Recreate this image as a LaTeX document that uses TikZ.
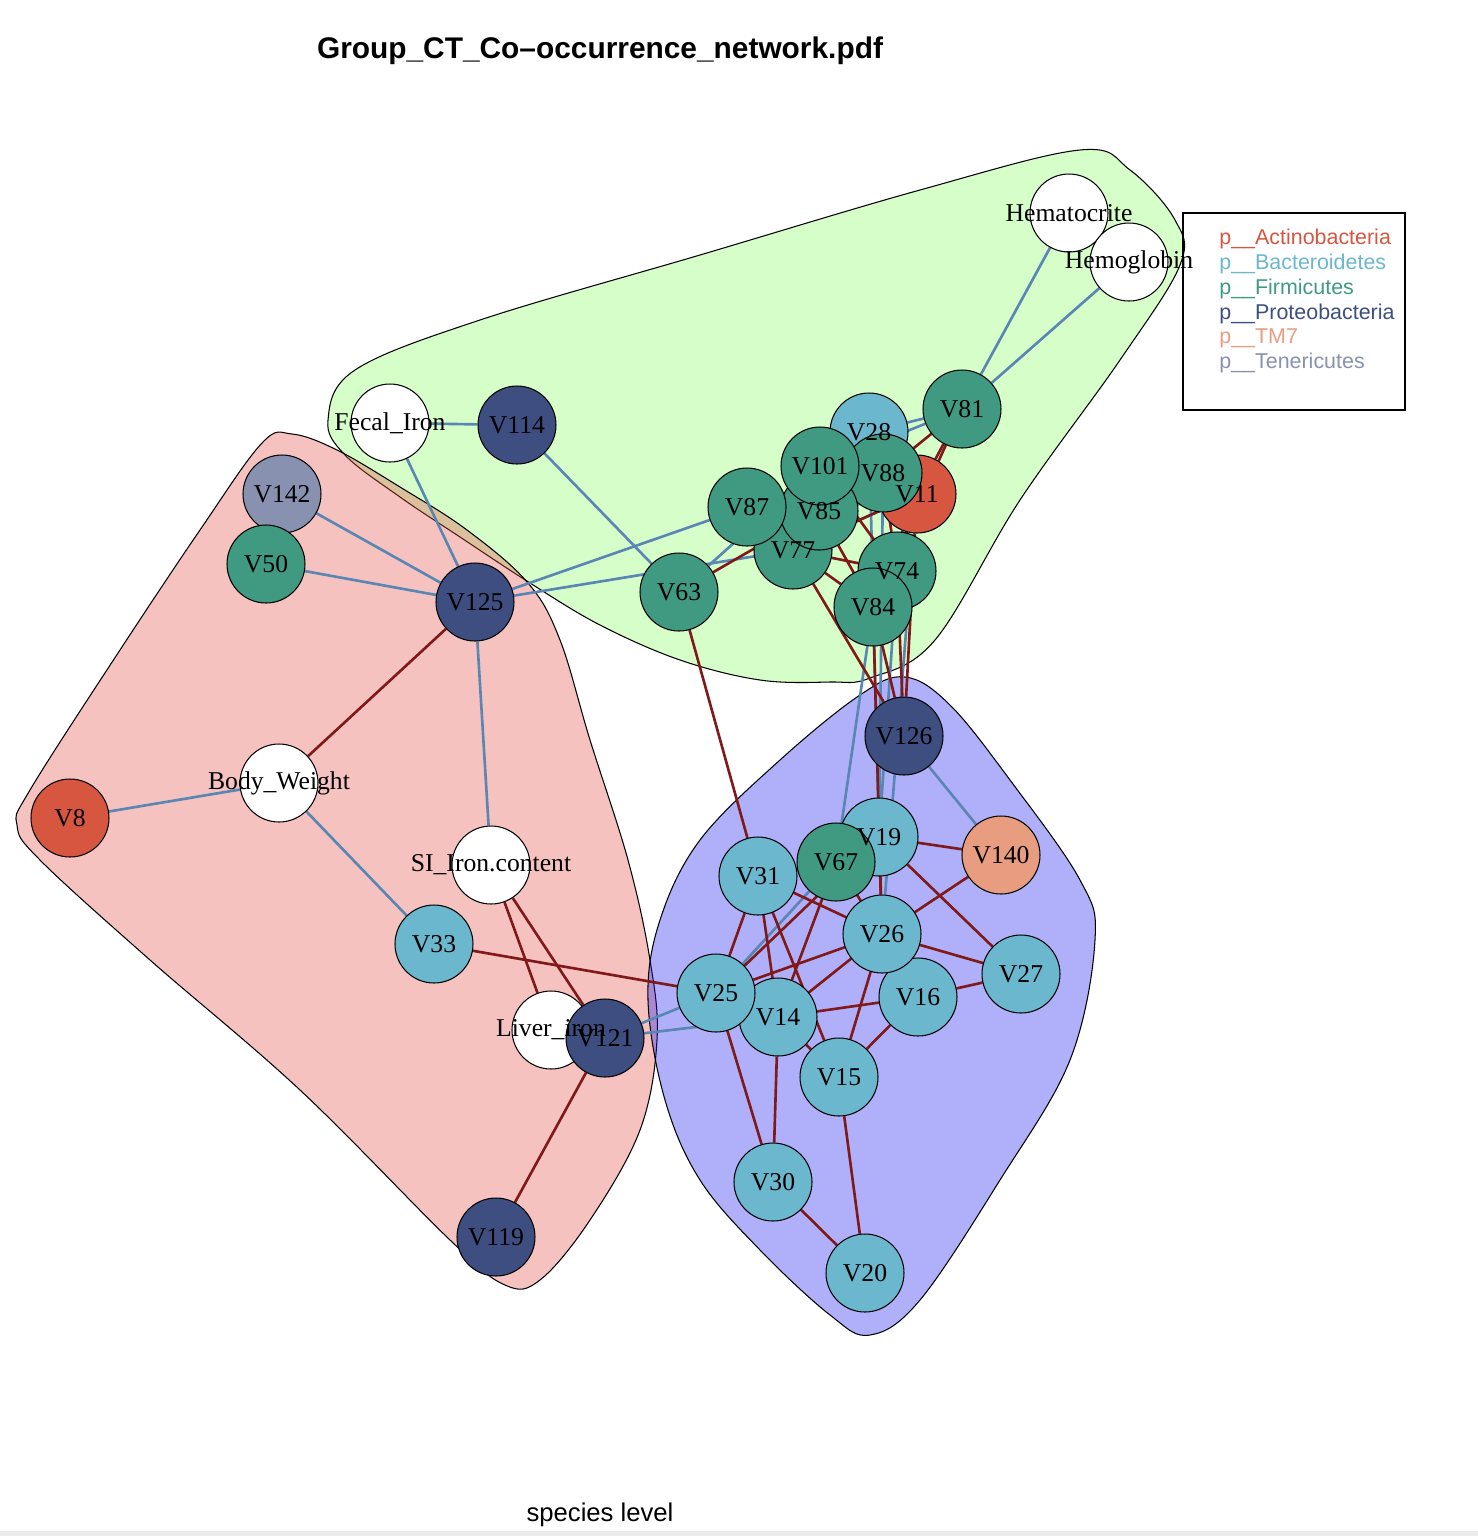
\documentclass[tikz,border=0pt]{standalone}
\usepackage{fontspec}
\setmainfont{Liberation Serif}
\setsansfont{Liberation Sans}

\definecolor{actino}{HTML}{D65640}
\definecolor{bactero}{HTML}{6BB8CE}
\definecolor{firmi}{HTML}{409A82}
\definecolor{proteo}{HTML}{3E4E80}
\definecolor{tmseven}{HTML}{E89D80}
\definecolor{teneri}{HTML}{8891B0}
\definecolor{posred}{HTML}{801A1A}
\definecolor{negblue}{HTML}{5A86B4}
\definecolor{hullgreen}{RGB}{138,252,98}
\definecolor{hullred}{RGB}{229,81,72}
\definecolor{hullblue}{RGB}{29,29,241}

\pgfdeclarelayer{hulls}
\pgfdeclarelayer{edges}
\pgfsetlayers{hulls,edges,main}

\begin{document}
\begin{tikzpicture}[x=0.02cm, y=-0.02cm,
  otu/.style={draw, circle, minimum size=1.56cm, inner sep=0pt,
              line width=0.6pt},
  env/.style={otu, fill=white},
  act/.style={otu, fill=actino},
  bac/.style={otu, fill=bactero},
  fir/.style={otu, fill=firmi},
  pro/.style={otu, fill=proteo},
  tms/.style={otu, fill=tmseven},
  ten/.style={otu, fill=teneri},
  vlab/.style={font=\fontsize{14.6}{14.6}\selectfont, inner sep=0pt},
  posedge/.style={draw=posred, line width=1.5pt},
  negedge/.style={draw=negblue, line width=1.5pt},
  hull/.style={draw=black, line width=0.6pt, fill opacity=0.35},
  leg/.style={font=\sffamily\fontsize{12.2}{12.2}\selectfont, anchor=west,
              inner sep=0pt}
]
  \useasboundingbox (0,0) rectangle (1478,1536);
  \fill[black!8] (0,1531) rectangle (1478,1536);

  % vertices, in drawing order
  \node[env] (Hct)   at (1069,213) {};
  \node[env] (Hgb)   at (1129,262) {};
  \node[env] (Fecal) at (390,423)  {};
  \node[pro] (V114)  at (517,425)  {};
  \node[ten] (V142)  at (282,494)  {};
  \node[fir] (V50)   at (266,564)  {};
  \node[pro] (V125)  at (475,602)  {};
  \node[env] (BW)    at (279,783)  {};
  \node[act] (V8)    at (70,818)   {};
  \node[env] (SI)    at (491,865)  {};
  \node[bac] (V33)   at (434,944)  {};
  \node[env] (Liver) at (551,1030) {};
  \node[pro] (V121)  at (605,1038) {};
  \node[pro] (V119)  at (496,1237) {};
  \node[bac] (V28)   at (869,432)  {};
  \node[act] (V11)   at (917,494)  {};
  \node[fir] (V88)   at (883,473)  {};
  \node[fir] (V77)   at (793,550)  {};
  \node[fir] (V85)   at (819,511)  {};
  \node[fir] (V101)  at (820,466)  {};
  \node[fir] (V87)   at (747,507)  {};
  \node[fir] (V81)   at (962,409)  {};
  \node[fir] (V74)   at (897,571)  {};
  \node[fir] (V84)   at (873,607)  {};
  \node[fir] (V63)   at (679,592)  {};
  \node[pro] (V126)  at (904,736)  {};
  \node[bac] (V19)   at (879,837)  {};
  \node[fir] (V67)   at (836,862)  {};
  \node[tms] (V140)  at (1001,855) {};
  \node[bac] (V31)   at (758,876)  {};
  \node[bac] (V16)   at (918,997)  {};
  \node[bac] (V26)   at (882,934)  {};
  \node[bac] (V27)   at (1021,974) {};
  \node[bac] (V14)   at (778,1017) {};
  \node[bac] (V25)   at (716,993)  {};
  \node[bac] (V15)   at (839,1077) {};
  \node[bac] (V30)   at (773,1182) {};
  \node[bac] (V20)   at (865,1273) {};

  % group hulls
  \begin{pgfonlayer}{hulls}
    \draw[hull, fill=hullgreen] plot[smooth cycle, tension=0.6] coordinates {
      (328,420) (355,370) (480,320) (700,255) (920,190) (1080,150)
      (1130,170) (1175,220) (1180,265) (1120,360) (1020,500) (935,640)
      (870,678) (830,682) (760,680) (680,660) (600,625) (530,583)
      (460,537) (400,497) (345,455)};
    \draw[hull, fill=hullred] plot[smooth cycle, tension=0.6] coordinates {
      (262,443) (292,434) (337,450) (400,487) (467,530) (528,583)
      (560,640) (590,740) (628,860) (650,960) (657,1040) (640,1130)
      (590,1220) (540,1280) (505,1285) (450,1240) (300,1090) (150,960)
      (40,860) (17,825) (30,790) (120,650) (200,530)};
    \draw[hull, fill=hullblue] plot[smooth cycle, tension=0.6] coordinates {
      (905,677) (950,705) (1010,780) (1080,880) (1095,940) (1070,1060)
      (1000,1180) (920,1300) (870,1335) (830,1315) (760,1250) (700,1180)
      (665,1100) (648,1000) (660,920) (700,840) (780,760) (860,695)};
  \end{pgfonlayer}

  % edges
  \begin{pgfonlayer}{edges}
    \draw[negedge] (Hct) -- (V81);  \draw[negedge] (Hgb) -- (V81);
    \draw[negedge] (Fecal) -- (V114); \draw[negedge] (Fecal) -- (V125);
    \draw[negedge] (V114) -- (V63); \draw[negedge] (V142) -- (V125);
    \draw[negedge] (V50) -- (V125); \draw[negedge] (V125) -- (V87);
    \draw[negedge] (V125) -- (V77); \draw[negedge] (V125) -- (SI);
    \draw[negedge] (BW) -- (V8);    \draw[negedge] (BW) -- (V33);
    \draw[negedge] (V121) -- (V25); \draw[negedge] (V121) -- (V14);
    \draw[negedge] (V126) -- (V140); \draw[negedge] (V25) -- (V67);
    \draw[negedge] (V84) -- (V67);  \draw[negedge] (V81) -- (V28);
    \draw[negedge] (V81) -- (V101); \draw[negedge] (V28) -- (V19);
    \draw[negedge] (V88) -- (V19);  \draw[negedge] (V11) -- (V26);
    \draw[negedge] (V74) -- (V19);  \draw[negedge] (V85) -- (V11);
    \draw[negedge] (V63) -- (V101); \draw[negedge] (V77) -- (V11);

    \draw[posedge] (V125) -- (BW);  \draw[posedge] (SI) -- (Liver);
    \draw[posedge] (SI) -- (V121);  \draw[posedge] (V33) -- (V25);
    \draw[posedge] (V121) -- (V119); \draw[posedge] (V63) -- (V31);
    \draw[posedge] (V63) -- (V85);  \draw[posedge] (V81) -- (V88);
    \draw[posedge] (V81) -- (V11);  \draw[posedge] (V77) -- (V126);
    \draw[posedge] (V84) -- (V126); \draw[posedge] (V74) -- (V126);
    \draw[posedge] (V11) -- (V126); \draw[posedge] (V85) -- (V84);
    \draw[posedge] (V77) -- (V84);  \draw[posedge] (V77) -- (V74);
    \draw[posedge] (V11) -- (V77);  \draw[posedge] (V11) -- (V84);
    \draw[posedge] (V88) -- (V74);  \draw[posedge] (V101) -- (V74);
    \draw[posedge] (V81) -- (V84);  \draw[posedge] (V19) -- (V140);
    \draw[posedge] (V19) -- (V27);  \draw[posedge] (V140) -- (V26);
    \draw[posedge] (V26) -- (V27);  \draw[posedge] (V16) -- (V27);
    \draw[posedge] (V31) -- (V26);  \draw[posedge] (V25) -- (V19);
    \draw[posedge] (V31) -- (V25);  \draw[posedge] (V31) -- (V14);
    \draw[posedge] (V31) -- (V15);  \draw[posedge] (V67) -- (V14);
    \draw[posedge] (V25) -- (V26);  \draw[posedge] (V14) -- (V26);
    \draw[posedge] (V14) -- (V16);  \draw[posedge] (V14) -- (V15);
    \draw[posedge] (V26) -- (V15);  \draw[posedge] (V16) -- (V15);
    \draw[posedge] (V25) -- (V30);  \draw[posedge] (V14) -- (V30);
    \draw[posedge] (V15) -- (V20);  \draw[posedge] (V30) -- (V20);
    \draw[posedge] (V19) -- (V26);  \draw[posedge] (V84) -- (V26);
    \draw[posedge] (V67) -- (V26);
  \end{pgfonlayer}

  % vertex labels on top of all circles
  \node[vlab] (Hct-l)   at (Hct)   {Hematocrite};
  \node[vlab] (Hgb-l)   at (Hgb)   {Hemoglobin};
  \node[vlab] (Fecal-l) at (Fecal) {Fecal\_Iron};
  \node[vlab] (BW-l)    at (BW)    {Body\_Weight};
  \node[vlab] (SI-l)    at (SI)    {SI\_Iron.content};
  \node[vlab] (V121-l)  at (V121)  {V121};
  \node[vlab] (Liver-l) at (Liver) {Liver\_iron};
  \node[vlab] (V114-l)  at (V114)  {V114};
  \node[vlab] (V142-l)  at (V142)  {V142};
  \node[vlab] (V50-l)   at (V50)   {V50};
  \node[vlab] (V125-l)  at (V125)  {V125};
  \node[vlab] (V8-l)    at (V8)    {V8};
  \node[vlab] (V33-l)   at (V33)   {V33};
  \node[vlab] (V119-l)  at (V119)  {V119};
  \node[vlab] (V28-l)   at (V28)   {V28};
  \node[vlab] (V11-l)   at (V11)   {V11};
  \node[vlab] (V88-l)   at (V88)   {V88};
  \node[vlab] (V77-l)   at (V77)   {V77};
  \node[vlab] (V85-l)   at (V85)   {V85};
  \node[vlab] (V101-l)  at (V101)  {V101};
  \node[vlab] (V87-l)   at (V87)   {V87};
  \node[vlab] (V81-l)   at (V81)   {V81};
  \node[vlab] (V74-l)   at (V74)   {V74};
  \node[vlab] (V84-l)   at (V84)   {V84};
  \node[vlab] (V63-l)   at (V63)   {V63};
  \node[vlab] (V126-l)  at (V126)  {V126};
  \node[vlab] (V19-l)   at (V19)   {V19};
  \node[vlab] (V67-l)   at (V67)   {V67};
  \node[vlab] (V140-l)  at (V140)  {V140};
  \node[vlab] (V31-l)   at (V31)   {V31};
  \node[vlab] (V16-l)   at (V16)   {V16};
  \node[vlab] (V26-l)   at (V26)   {V26};
  \node[vlab] (V27-l)   at (V27)   {V27};
  \node[vlab] (V14-l)   at (V14)   {V14};
  \node[vlab] (V25-l)   at (V25)   {V25};
  \node[vlab] (V15-l)   at (V15)   {V15};
  \node[vlab] (V30-l)   at (V30)   {V30};
  \node[vlab] (V20-l)   at (V20)   {V20};

  % legend
  \draw[line width=0.6pt] (1183,213) rectangle (1405,410);
  \node[leg, text=actino]  (lgA) at (1219,239) {p\_\_Actinobacteria};
  \node[leg, text=bactero] (lgB) at (1219,264) {p\_\_Bacteroidetes};
  \node[leg, text=firmi]   (lgF) at (1219,289) {p\_\_Firmicutes};
  \node[leg, text=proteo]  (lgP) at (1219,314) {p\_\_Proteobacteria};
  \node[leg, text=tmseven] (lgT) at (1219,338) {p\_\_TM7};
  \node[leg, text=teneri]  (lgE) at (1219,363) {p\_\_Tenericutes};

  % titles
  \node[font=\sffamily\bfseries\fontsize{17}{17}\selectfont] (title)
    at (600,51) {Group\_CT\_Co–occurrence\_network.pdf};
  \node[font=\sffamily\fontsize{14.6}{14.6}\selectfont] (level)
    at (600,1515) {species level};
\end{tikzpicture}
\end{document}
